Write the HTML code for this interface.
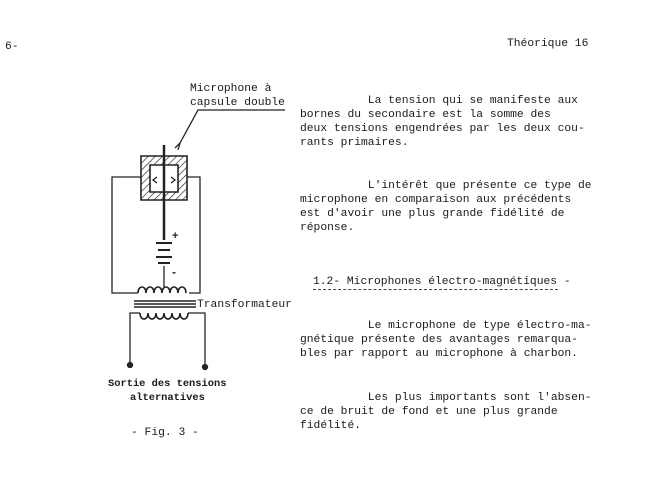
<!DOCTYPE html>
<html><head><meta charset="utf-8"><style>
body{margin:0;width:662px;height:480px;background:#fff;position:relative;overflow:hidden;font-family:"Liberation Mono",monospace;color:#1a1a1a}
.t{position:absolute;font-size:11.3px;white-space:pre;line-height:14px}
.b{font-family:"Liberation Mono",monospace;font-weight:bold;font-size:10.4px}
</style></head><body>
<div class="t" style="left:5px;top:40px">6-</div>
<div class="t" style="left:507px;top:37px">Théorique 16</div>

<div class="t" style="left:300px;top:94px">          La tension qui se manifeste aux
bornes du secondaire est la somme des
deux tensions engendrées par les deux cou-
rants primaires.</div>
<div class="t" style="left:300px;top:179px">          L'intérêt que présente ce type de
microphone en comparaison aux précédents
est d'avoir une plus grande fidélité de
réponse.</div>
<div class="t" style="left:313px;top:275px">1.2- Microphones électro-magnétiques -</div>
<div style="position:absolute;left:313px;top:289px;width:245px;border-top:1px dashed #444"></div>
<div class="t" style="left:300px;top:319px">          Le microphone de type électro-ma-
gnétique présente des avantages remarqua-
bles par rapport au microphone à charbon.</div>
<div class="t" style="left:300px;top:391px">          Les plus importants sont l'absen-
ce de bruit de fond et une plus grande
fidélité.</div>

<div class="t" style="left:190px;top:82px;line-height:14px">Microphone à
capsule double</div>
<div class="t" style="left:197px;top:298px">Transformateur</div>
<div class="t b" style="left:108px;top:377px">Sortie des tensions</div>
<div class="t b" style="left:130px;top:391px">alternatives</div>
<div class="t" style="left:131px;top:426px">- Fig. 3 -</div>

<svg width="662" height="480" style="position:absolute;left:0;top:0" fill="none" stroke="#222" stroke-width="1.3">
<defs><pattern id="h" width="5" height="5" patternUnits="userSpaceOnUse" patternTransform="rotate(45)"><line x1="0" y1="0" x2="0" y2="5" stroke="#222" stroke-width="1.3"/></pattern></defs>
<path d="M141,156H187V200H141Z M150,165V192H178V165Z" fill="url(#h)" fill-rule="evenodd" stroke-width="1.6"/>
<line x1="164" y1="145" x2="164" y2="240" stroke-width="2.5"/>
<path d="M157,177l-4,3 4,3 M171,177l4,3 -4,3"/>
<path d="M180,143L198,110H285"/>
<path d="M178,150l2,-7 -5,5" />
<path d="M141,177H112V293H138 M187,177H200V293H189"/>
<text x="172" y="239" font-family="Liberation Sans" font-size="11" font-weight="bold" fill="#222" stroke="none">+</text>
<path d="M156,243H172 M158,250H170 M156,257H172 M158,263H170" stroke-width="2"/>
<text x="172" y="276" font-family="Liberation Sans" font-size="12" font-weight="bold" fill="#222" stroke="none">-</text>
<line x1="164" y1="266" x2="164" y2="287"/>
<path d="M138,293 c0,-8 8,-8 8,0 c0,-8 8,-8 8,0 c0,-8 8,-8 8,0 c0,-8 8,-8 8,0 c0,-8 8,-8 8,0 c0,-8 8,-8 8,0" stroke-width="1.6"/>
<path d="M134,301H196 M134,304H196 M134,307H196" stroke-width="1.5"/>
<path d="M140,313 c0,8 8,8 8,0 c0,8 8,8 8,0 c0,8 8,8 8,0 c0,8 8,8 8,0 c0,8 8,8 8,0 c0,8 8,8 8,0" stroke-width="1.6"/>
<path d="M140,313H130V365 M188,313H205V367"/>
<circle cx="130" cy="365" r="2.5" fill="#222"/>
<circle cx="205" cy="367" r="2.5" fill="#222"/>
</svg>
</body></html>
